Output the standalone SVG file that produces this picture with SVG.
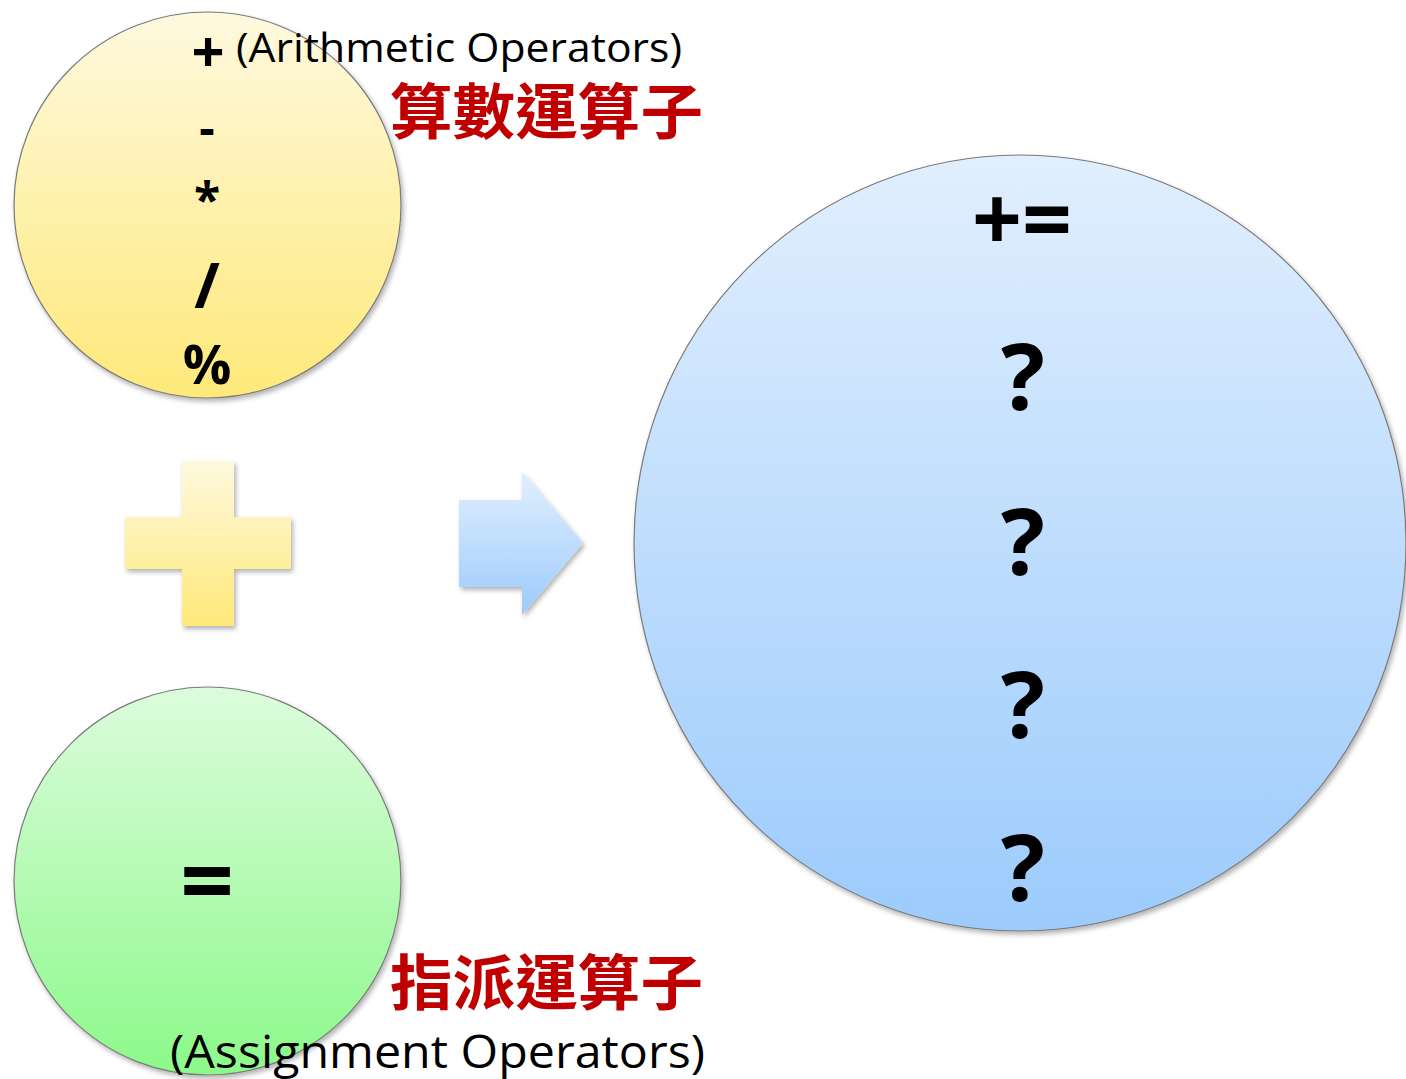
<svg xmlns="http://www.w3.org/2000/svg" width="1406" height="1079" viewBox="0 0 1406 1079">
<style>
.sym{font-family:"Open Sans","Noto Sans",sans-serif;font-weight:700;fill:#000;text-anchor:middle}
.lbl{font-family:"Open Sans","Noto Sans",sans-serif;fill:#000}
.cjk{font-family:"Noto Sans CJK TC","Noto Sans CJK SC",sans-serif;font-weight:700;fill:#c00000}
.ring{stroke:#7a7a7a;stroke-width:1.2}
</style>
<defs>
<linearGradient id="gy" x1="0" y1="0" x2="0" y2="1"><stop offset="0" stop-color="#fef9df"/><stop offset="1" stop-color="#fee979"/></linearGradient>
<linearGradient id="gg" x1="0" y1="0" x2="0" y2="1"><stop offset="0" stop-color="#dcfcdc"/><stop offset="1" stop-color="#8cf98a"/></linearGradient>
<linearGradient id="gb" x1="0" y1="0" x2="0" y2="1"><stop offset="0" stop-color="#e1effe"/><stop offset="1" stop-color="#9ccbfc"/></linearGradient>
<filter id="sh" x="-10%" y="-10%" width="130%" height="130%"><feDropShadow dx="2" dy="3" stdDeviation="2.5" flood-color="#000" flood-opacity="0.3"/></filter>
</defs>
<g id="arith">
<ellipse class="ring" cx="207.5" cy="205" rx="193.5" ry="193" fill="url(#gy)" filter="url(#sh)"/>
<text class="sym" x="208" y="72" font-size="58">+</text>
<text class="sym" x="207" y="145" font-size="48">-</text>
<text class="sym" x="207" y="217" font-size="48">*</text>
<text class="sym" x="207" y="308" font-size="62">/</text>
<text class="sym" x="207" y="384" font-size="54">%</text>
<text class="lbl" x="236" y="62" font-size="40" textLength="446" lengthAdjust="spacingAndGlyphs">(Arithmetic Operators)</text>
<text class="cjk" x="390" y="134" font-size="60" textLength="313" lengthAdjust="spacingAndGlyphs">算數運算子</text>
</g>
<g id="plus">
<path d="M182,461 H234 V517 H291 V569 H234 V626 H182 V569 H125 V517 H182 Z" fill="url(#gy)" filter="url(#sh)"/>
</g>
<g id="assign">
<ellipse class="ring" cx="207.5" cy="881" rx="193.5" ry="194" fill="url(#gg)" filter="url(#sh)"/>
<text class="sym" x="207" y="914" font-size="94">=</text>
<text class="cjk" x="390" y="1005" font-size="60" textLength="313" lengthAdjust="spacingAndGlyphs">指派運算子</text>
<text class="lbl" x="170" y="1068" font-size="46" textLength="535" lengthAdjust="spacingAndGlyphs">(Assignment Operators)</text>
</g>
<g id="connectors">
<path d="M459,500 H522 V472 L583,543 L522,615 V587 H459 Z" fill="url(#gb)" filter="url(#sh)"/>
</g>
<g id="compound">
<ellipse class="ring" cx="1020" cy="543" rx="386" ry="388" fill="url(#gb)" filter="url(#sh)"/>
<text class="sym" x="1022" y="251" font-size="90" textLength="100" lengthAdjust="spacingAndGlyphs">+=</text>
<text class="sym" x="1023" y="410" font-size="92">?</text>
<text class="sym" x="1023" y="575" font-size="92">?</text>
<text class="sym" x="1023" y="738" font-size="92">?</text>
<text class="sym" x="1023" y="901" font-size="92">?</text>
</g>
</svg>
